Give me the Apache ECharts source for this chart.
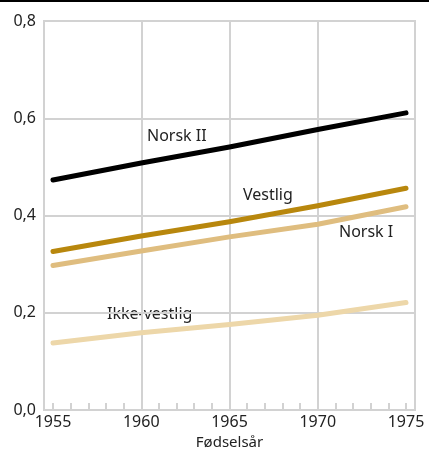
<!DOCTYPE html>
<html>
<head>
<meta charset="utf-8">
<script src="https://cdn.jsdelivr.net/npm/echarts@6/dist/echarts.min.js"></script>
<style>
  html, body { margin: 0; padding: 0; background: #fff; }
  #chart { width: 429px; height: 455px; }
</style>
</head>
<body>
<div id="chart"></div>
<script>
// Data
const years = [1955, 1960, 1965, 1970, 1975];
const norskII = [0.473, 0.508, 0.541, 0.577, 0.611];
const vestlig = [0.326, 0.358, 0.387, 0.420, 0.456];
const norskI = [0.297, 0.327, 0.356, 0.382, 0.418];
const ikkeVestlig = [0.138, 0.159, 0.176, 0.195, 0.221];

const seriesNames = ['Norsk II', 'Vestlig', 'Norsk I', 'Ikke-vestlig'];
const seriesValues = [norskII, vestlig, norskI, ikkeVestlig];
const seriesColors = ['#000000', '#b8870d', '#dfbd7f', '#edd7a9'];

const FONT = '"Noto Sans", "Open Sans", sans-serif';
const GRIDLINE = '#d2d2d2';

const chart = echarts.init(document.getElementById('chart'));

const toPairs = (vals) => years.map((y, i) => [y, vals[i]]);

const option = {
  animation: false,
  backgroundColor: '#ffffff',
  textStyle: { fontFamily: FONT },
  grid: [
    // frame + horizontal lines
    { left: 44, right: 14, top: 21, bottom: 45, show: true, borderColor: GRIDLINE, borderWidth: 2,
      containLabel: false, outerBoundsMode: 'none' },
    // data area (1955..1975)
    { left: 53, right: 23, top: 21, bottom: 45, containLabel: false, outerBoundsMode: 'none' }
  ],
  xAxis: [
    { gridIndex: 0, type: 'value', min: 1954.5, max: 1975.5, show: false },
    {
      gridIndex: 1, type: 'value', min: 1955, max: 1975, interval: 5,
      axisLine: { show: false },
      axisTick: { show: true, inside: true, length: 7, lineStyle: { color: GRIDLINE, width: 2 } },
      minorTick: { show: true, splitNumber: 5, length: 7, lineStyle: { color: GRIDLINE, width: 2 } },
      splitLine: { show: true, showMinLine: false, showMaxLine: false, lineStyle: { color: GRIDLINE, width: 2 } },
      axisLabel: { fontSize: 16, color: '#222', margin: 4, fontFamily: FONT, formatter: (v) => String(v) },
      name: 'Fødselsår',
      nameLocation: 'middle',
      nameGap: 23,
      nameTextStyle: { fontSize: 15, color: '#222', fontFamily: FONT }
    }
  ],
  yAxis: [
    {
      gridIndex: 0, type: 'value', min: 0, max: 0.8, interval: 0.2,
      axisLine: { show: false },
      axisTick: { show: false },
      splitLine: { show: true, lineStyle: { color: GRIDLINE, width: 2 } },
      axisLabel: {
        fontSize: 16, color: '#222', margin: 8, fontFamily: FONT,
        formatter: (v) => v.toFixed(1).replace('.', ',')
      }
    },
    { gridIndex: 1, type: 'value', min: 0, max: 0.8, show: false }
  ],
  series: seriesNames.map((name, i) => ({
    name: name,
    type: 'line',
    xAxisIndex: 1,
    yAxisIndex: 1,
    data: toPairs(seriesValues[i]),
    showSymbol: false,
    symbol: 'none',
    lineStyle: { color: seriesColors[i], width: 5, cap: 'round', join: 'round' },
    z: 10 - i
  })),
  graphic: [
    { type: 'rect', left: 0, top: 0, shape: { width: 429, height: 2 }, style: { fill: '#000' } },
    { type: 'text', left: 147, top: 128, style: { text: 'Norsk II', font: '16px ' + FONT, fill: '#222' } },
    { type: 'text', left: 243, top: 187, style: { text: 'Vestlig', font: '16px ' + FONT, fill: '#222' } },
    { type: 'text', left: 339, top: 224, style: { text: 'Norsk I', font: '16px ' + FONT, fill: '#222' } },
    { type: 'text', left: 107, top: 306, style: { text: 'Ikke-vestlig', font: '16px ' + FONT, fill: '#222' } }
  ]
};

chart.setOption(option);
</script>
</body>
</html>
